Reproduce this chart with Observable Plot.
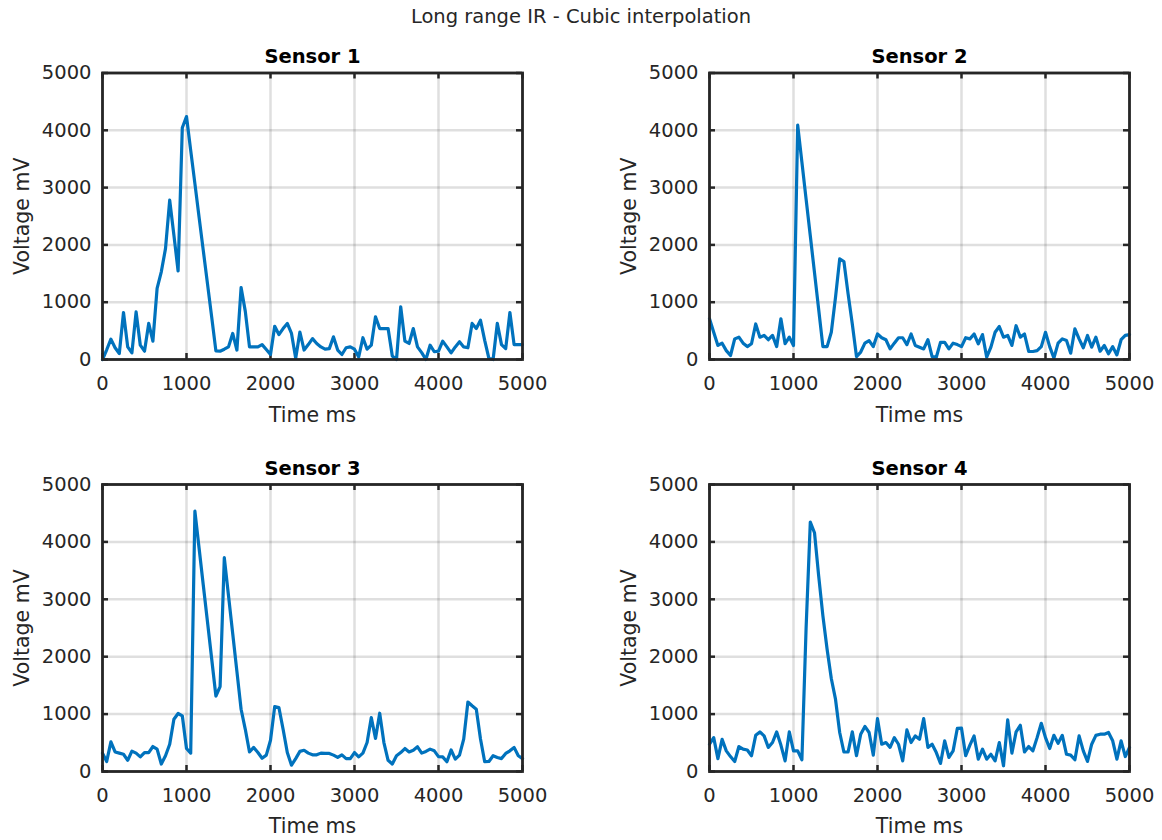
<!DOCTYPE html>
<html>
<head>
<meta charset="utf-8">
<script src="https://cdn.jsdelivr.net/npm/d3@7"></script>
<script src="https://cdn.jsdelivr.net/npm/@observablehq/plot@0.6"></script>
<style>
  html, body { margin: 0; padding: 0; background: #fff; }
  #page { position: relative; width: 1162px; height: 840px; overflow: hidden; font-family: "DejaVu Sans", sans-serif; }
  #title { position: absolute; left: 0; top: 0; width: 1162px; height: 34px; line-height: 34px; text-align: center; font-size: 19.5px; color: #262626; z-index: 2; }
  .panel { position: absolute; width: 581px; height: 420px; }
</style>
</head>
<body>
<div id="page">
  <div id="title">Long range IR - Cubic interpolation</div>
  <div class="panel" id="p1" style="left:0;top:0"></div>
  <div class="panel" id="p2" style="left:581px;top:0"></div>
  <div class="panel" id="p3" style="left:0;top:420px"></div>
  <div class="panel" id="p4" style="left:581px;top:420px"></div>
</div>
<script>
const time = [0,50,100,150,200,250,300,350,400,450,500,550,600,650,700,750,800,850,900,950,
  1000,1050,1100,1150,1200,1250,1300,1350,1400,1450,1500,1550,1600,1650,1700,1750,1800,1850,1900,1950,
  2000,2050,2100,2150,2200,2250,2300,2350,2400,2450,2500,2550,2600,2650,2700,2750,2800,2850,2900,2950,
  3000,3050,3100,3150,3200,3250,3300,3350,3400,3450,3500,3550,3600,3650,3700,3750,3800,3850,3900,3950,
  4000,4050,4100,4150,4200,4250,4300,4350,4400,4450,4500,4550,4600,4650,4700,4750,4800,4850,4900,4950,5000];

const sensor1 = [0,170,355,205,105,820,220,115,830,250,145,630,320,1240,1530,1935,2780,2170,1545,4045,
  4240,3650,3070,2480,1900,1320,740,150,145,180,220,455,165,1255,840,220,220,220,260,175,
  87,580,435,540,630,455,20,480,165,260,365,280,220,180,190,395,165,87,205,220,
  180,45,380,180,250,745,540,540,540,60,0,920,320,280,540,220,120,0,250,135,
  145,320,220,115,220,310,220,205,630,540,685,335,20,0,630,260,190,820,260,260,260];

const sensor2 = [710,475,245,285,155,70,360,390,285,225,275,620,390,420,345,420,225,710,275,390,
  245,4090,3445,2800,2160,1515,870,225,225,475,1085,1755,1710,1145,620,50,130,285,330,225,
  445,380,345,185,285,380,380,260,445,245,215,185,345,50,40,300,300,185,285,260,
  225,380,360,445,275,435,40,215,475,575,390,420,245,590,390,445,140,140,155,225,
  475,225,25,285,360,330,110,535,360,205,420,215,390,145,245,100,225,80,345,420,435];

const sensor3 = [320,175,515,340,320,300,195,355,320,255,330,330,435,390,130,275,475,910,1010,970,
  400,320,4535,3890,3245,2605,1960,1315,1480,3725,3065,2405,1745,1085,735,340,420,330,230,285,
  545,1130,1115,735,330,110,225,350,370,320,290,290,320,315,315,285,245,290,225,225,
  330,255,320,505,940,575,1015,505,195,130,275,330,400,340,370,430,320,350,390,360,
  260,255,170,375,215,285,565,1210,1145,1085,565,170,175,275,245,225,315,360,420,275,225];

const sensor4 = [475,590,225,560,360,260,175,435,390,375,275,630,690,620,420,505,690,460,185,690,
  360,360,205,2500,4345,4160,3405,2710,2130,1620,1260,680,340,340,690,275,650,785,680,285,
  920,475,505,420,590,475,185,725,505,620,560,920,420,475,330,140,535,245,360,750,
  755,275,460,620,215,390,215,300,185,505,100,900,320,690,805,340,435,360,590,840,
  590,400,630,490,630,300,285,205,620,360,175,475,630,650,650,680,535,215,535,260,420];

const titles = ["Sensor 1", "Sensor 2", "Sensor 3", "Sensor 4"];
const xTicks = [0, 1000, 2000, 3000, 4000, 5000];
const yTicks = [0, 1000, 2000, 3000, 4000, 5000];
const xLabel = "Time ms";
const yLabel = "Voltage mV";

const INK = "#262626";
const BLUE = "#0072BD";

function panel(values, title, m) {
  const W = 581, H = 420;
  const fw = W - m.left - m.right;
  const fh = H - m.top - m.bottom;
  const data = time.map((t, i) => ({t, v: values[i]}));
  return Plot.plot({
    width: W, height: H,
    marginLeft: m.left, marginRight: m.right, marginTop: m.top, marginBottom: m.bottom,
    style: {fontFamily: "DejaVu Sans", fontSize: "19.5px", color: INK, background: "transparent", overflow: "visible"},
    x: {domain: [0, 5000], ticks: xTicks, tickSize: 0, tickPadding: 17, label: null, tickFormat: d => String(d)},
    y: {domain: [0, 5000], ticks: yTicks, tickSize: 0, tickPadding: 11, label: null, tickFormat: d => String(d)},
    marks: [
      Plot.ruleX(xTicks, {x: d => d, stroke: INK, strokeOpacity: 0.15, strokeWidth: 2.5}),
      Plot.ruleY(yTicks, {y: d => d, stroke: INK, strokeOpacity: 0.15, strokeWidth: 2.5}),
      Plot.ruleX(xTicks, {x: d => d, insetTop: fh - 6, stroke: INK, strokeWidth: 2.5}),
      Plot.ruleX(xTicks, {x: d => d, insetBottom: fh - 6, stroke: INK, strokeWidth: 2.5}),
      Plot.ruleY(yTicks, {y: d => d, insetRight: fw - 6, stroke: INK, strokeWidth: 2.5}),
      Plot.ruleY(yTicks, {y: d => d, insetLeft: fw - 6, stroke: INK, strokeWidth: 2.5}),
      Plot.line(data, {x: "t", y: "v", stroke: BLUE, strokeWidth: 3.2, strokeLinejoin: "round"}),
      Plot.frame({stroke: INK, strokeWidth: 2.8}),
      Plot.text([xLabel], {text: d => d, frameAnchor: "bottom", lineAnchor: "middle", textAnchor: "middle", dy: m.xdy, fontSize: 20.5, fill: INK}),
      Plot.text([yLabel], {text: d => d, frameAnchor: "left", lineAnchor: "middle", textAnchor: "middle", dx: -80, rotate: -90, fontSize: 20.5, fill: INK}),
      Plot.text([title], {text: d => d, frameAnchor: "top", lineAnchor: "middle", textAnchor: "middle", dy: m.tdy, fontSize: 19.5, fontWeight: "bold", fill: "#000"})
    ]
  });
}

document.getElementById("p1").append(panel(sensor1, titles[0], {left: 102, right: 59, top: 72.5, bottom: 61, xdy: 55.5, tdy: -16.5}));
document.getElementById("p2").append(panel(sensor2, titles[1], {left: 128, right: 33, top: 72.5, bottom: 61, xdy: 55.5, tdy: -16.5}));
document.getElementById("p3").append(panel(sensor3, titles[2], {left: 102, right: 59, top: 64, bottom: 69, xdy: 55, tdy: -16}));
document.getElementById("p4").append(panel(sensor4, titles[3], {left: 128, right: 33, top: 64, bottom: 69, xdy: 55, tdy: -16}));
</script>
</body>
</html>
